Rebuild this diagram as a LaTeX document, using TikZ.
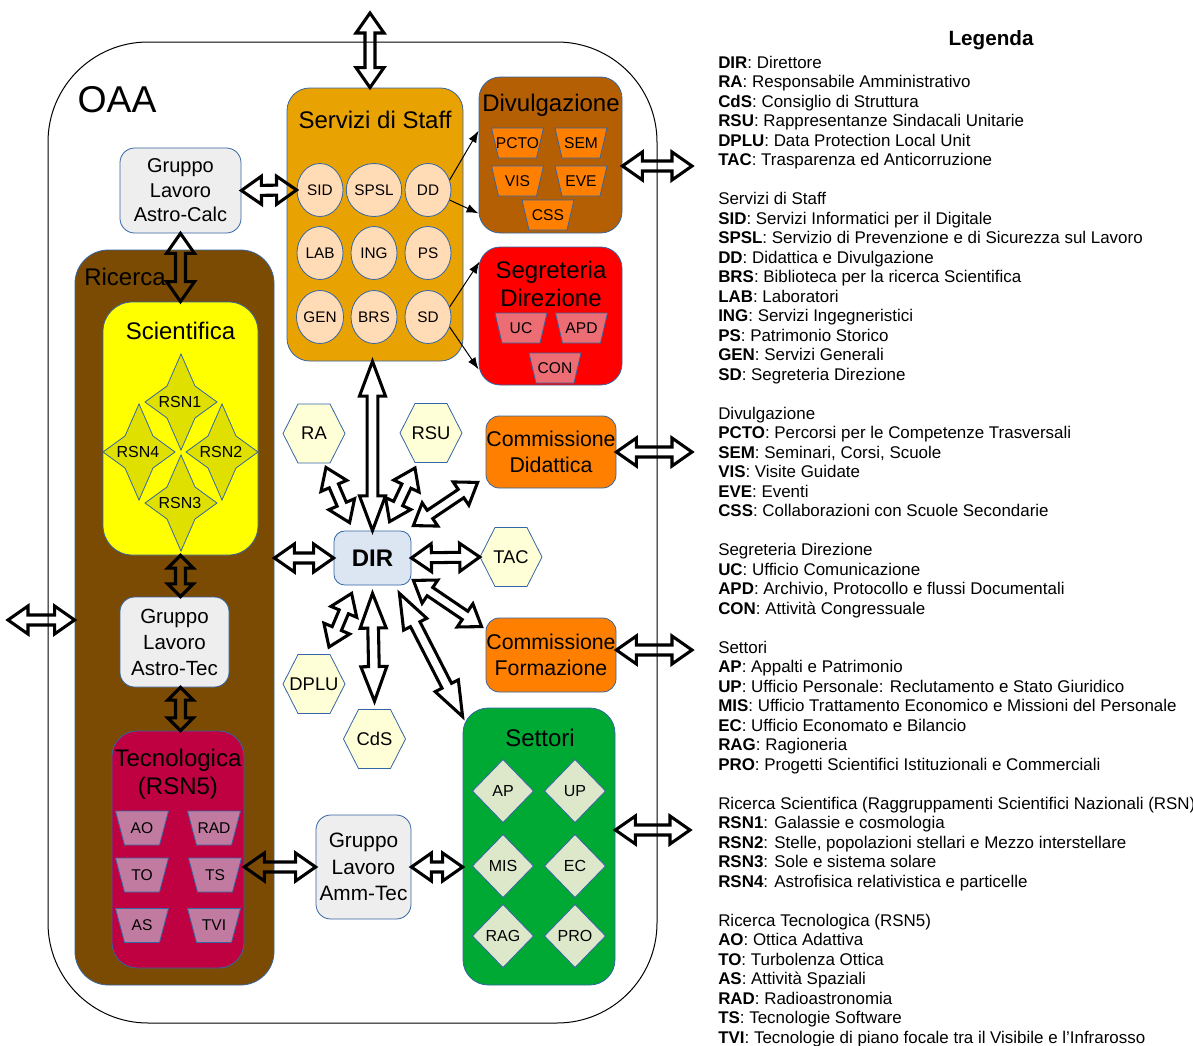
\documentclass[tikz,border=0pt]{standalone}
\usepackage{fontspec}
\setmainfont{Liberation Sans}
\usetikzlibrary{calc,shapes.geometric,arrows.meta}

\definecolor{bcol}{HTML}{3465A4}
\definecolor{cSS}{HTML}{E8A202}
\definecolor{cCirc}{HTML}{FFDBB6}
\definecolor{cDiv}{HTML}{B45F04}
\definecolor{cOr}{HTML}{FF8000}
\definecolor{cSeg}{HTML}{FF0000}
\definecolor{cSegT}{HTML}{EC6D74}
\definecolor{cRic}{HTML}{7B4A03}
\definecolor{cSci}{HTML}{FFFF00}
\definecolor{cStar}{HTML}{E0E000}
\definecolor{cTec}{HTML}{BF0041}
\definecolor{cTecT}{HTML}{C27BA0}
\definecolor{cSet}{HTML}{00A933}
\definecolor{cDia}{HTML}{DDE8CB}
\definecolor{cGray}{HTML}{EEEEEE}
\definecolor{cDir}{HTML}{DCE6F2}
\definecolor{cHex}{HTML}{FFFFD7}

% outline double arrow: name, head length, head half width, shaft half width
\newcommand\mkdbl[4]{%
\tikzset{#1/.style={draw=black, line width=2.3pt, line join=miter, miter limit=20, to path={
 let \p1=(\tikztostart), \p2=(\tikztotarget), \n1={atan2(\y2-\y1,\x2-\x1)} in
 (\p1) -- ($(\p1)+({\n1}:#2)+({\n1+90}:#3)$) -- ($(\p1)+({\n1}:#2)+({\n1+90}:#4)$)
 -- ($(\p2)+({\n1}:-#2)+({\n1+90}:#4)$) -- ($(\p2)+({\n1}:-#2)+({\n1+90}:#3)$)
 -- (\p2) -- ($(\p2)+({\n1}:-#2)+({\n1-90}:#3)$) -- ($(\p2)+({\n1}:-#2)+({\n1-90}:#4)$)
 -- ($(\p1)+({\n1}:#2)+({\n1-90}:#4)$) -- ($(\p1)+({\n1}:#2)+({\n1-90}:#3)$) -- cycle}}}}
\mkdbl{dblS}{15pt}{10.5pt}{3.75pt}
\mkdbl{dblL}{26pt}{9.75pt}{4pt}
\mkdbl{dblT}{9.5pt}{9.5pt}{3.75pt}

\tikzset{
 box/.style={draw=bcol, line width=0.6pt, inner sep=0pt, align=center},
 sz/.style 2 args={minimum width=#1*0.75pt, minimum height=#2*0.75pt},
 ttl/.style={inner sep=0pt, font=\fontsize{18}{21}\selectfont, align=center},
 shp/.style={draw=bcol, line width=0.6pt},
 lbl/.style={inner sep=0pt},
 circ/.style={ellipse, draw=bcol, line width=0.6pt, fill=cCirc, minimum width=34.5pt, minimum height=39.75pt, inner sep=0pt, font=\fontsize{11.5}{13}\selectfont},
 tarr/.style={line width=0.75pt, -{Latex[length=9pt,width=6.5pt]}},
}

\newcommand\hexn[4]{%
 \filldraw[shp, fill=cHex] ($(#2,#3)+(-31,0)$) -- ++(15,-29.5) -- ++(32,0) -- ++(15,29.5) -- ++(-15,29.5) -- ++(-32,0) -- cycle;
 \node[lbl, sz={62}{59}, font=\fontsize{13.8}{16}\selectfont] (#1) at (#2,#3) {#4};}
\newcommand\starn[4]{%
 \filldraw[shp, fill=cStar] ($(#2,#3)+(0,-48)$) -- ++(14,32) -- ++(22,16) -- ++(-22,16) -- ++(-14,32) -- ++(-14,-32) -- ++(-22,-16) -- ++(22,-16) -- cycle;}
\newcommand\trapn[8]{%
 \filldraw[shp, fill=#5] ($(#2,#3)+(-#6,-#8)$) -- ($(#2,#3)+(#6,-#8)$) -- ($(#2,#3)+(#7,#8)$) -- ($(#2,#3)+(-#7,#8)$) -- cycle;
 \node[lbl, font=\fontsize{11.7}{13}\selectfont] (#1) at (#2,#3) {#4};}
\newcommand\diamn[4]{%
 \filldraw[shp, fill=cDia] ($(#2,#3)+(0,-31.5)$) -- ++(30.5,31.5) -- ++(-30.5,31.5) -- ++(-30.5,-31.5) -- cycle;
 \node[lbl, font=\fontsize{12}{14}\selectfont] (#1) at (#2,#3) {#4};}

\begin{document}
\begin{tikzpicture}[x=0.75pt,y=-0.75pt]
\useasboundingbox (0,0) rectangle (1193,1046);

% outer OAA
\node[draw=black, line width=0.75pt, rounded corners=75pt, sz={609}{981}, inner sep=0pt] (OAA) at (352.5,532.5) {};
\node[lbl, font=\fontsize{28}{32}\selectfont] (tOAA) at (117,100) {OAA};

% Servizi di Staff
\node[box, fill=cSS, sz={176}{273}, rounded corners=17pt] (SS) at (375,224.5) {};
\node[ttl] (tSS) at (375,120) {Servizi di Staff};
\node[circ] (SID) at (320,190) {SID};
\node[circ] (SPSL) at (374,190) {SPSL};
\node[circ] (DD) at (428,190) {DD};
\node[circ] (LAB) at (320,253) {LAB};
\node[circ] (ING) at (374,253) {ING};
\node[circ] (PS) at (428,253) {PS};
\node[circ] (GEN) at (320,317) {GEN};
\node[circ] (BRS) at (374,317) {BRS};
\node[circ] (SD) at (428,317) {SD};

% Divulgazione
\node[box, fill=cDiv, sz={143}{156}, rounded corners=16pt] (DIV) at (550.5,155) {};
\node[ttl] (tDIV) at (551,105) {Divulgazione};
\trapn{PCTO}{517.5}{143}{PCTO}{cOr}{26}{19}{15}
\trapn{SEM}{581}{143}{SEM}{cOr}{26}{19}{15}
\trapn{VIS}{517.5}{181}{VIS}{cOr}{26}{19}{15}
\trapn{EVE}{581}{181}{EVE}{cOr}{26}{19}{15}
\trapn{CSS}{548}{215}{CSS}{cOr}{26}{19}{15}

% Segreteria Direzione
\node[box, fill=cSeg, sz={143}{138}, rounded corners=16pt] (SEG) at (550.5,316) {};
\node[ttl] (tSEG) at (551,283.5) {Segreteria\\Direzione};
\trapn{UC}{521}{328}{UC}{cSegT}{26}{19}{15}
\trapn{APD}{581.5}{328}{APD}{cSegT}{26}{19}{15}
\trapn{CON}{555}{368}{CON}{cSegT}{26}{19}{15}

% Gruppo Lavoro Astro-Calc
\node[box, fill=cGray, sz={121}{85}, rounded corners=11pt, font=\fontsize{15}{18.4}\selectfont] (GAC) at (180.5,190.5) {Gruppo\\Lavoro\\Astro-Calc};

% Ricerca
\node[box, fill=cRic, sz={199}{735}, rounded corners=25pt] (RIC) at (174.5,617.5) {};
\node[ttl] (tRIC) at (125,277) {Ricerca};
\node[box, fill=cSci, sz={155}{253}, rounded corners=22pt] (SCI) at (180.5,428.5) {};
\node[ttl] (tSCI) at (180.5,331) {Scientifica};
\starn{sRSN1}{181}{402}{}
\starn{sRSN2}{222}{452}{}
\starn{sRSN3}{181}{503}{}
\starn{sRSN4}{139}{452}{}
\node[lbl, font=\fontsize{12}{14}\selectfont] (RSN1) at (180,402) {RSN1};
\node[lbl, font=\fontsize{12}{14}\selectfont] (RSN2) at (221,452) {RSN2};
\node[lbl, font=\fontsize{12}{14}\selectfont] (RSN3) at (180,503) {RSN3};
\node[lbl, font=\fontsize{12}{14}\selectfont] (RSN4) at (138,452) {RSN4};
\node[box, fill=cGray, sz={109}{90}, rounded corners=11pt, font=\fontsize{15.4}{19.5}\selectfont] (GAT) at (174.5,642) {Gruppo\\Lavoro\\Astro-Tec};
\node[box, fill=cTec, sz={132}{237}, rounded corners=19pt] (TEC) at (178,849.5) {};
\node[ttl] (tTEC) at (178,774.5) {Tecnologica\\(RSN5)};
\trapn{AO}{142}{828}{AO}{cTecT}{26.5}{17.5}{17}
\trapn{RAD}{214}{828}{RAD}{cTecT}{26.5}{17.5}{17}
\trapn{TO}{142}{875}{TO}{cTecT}{26.5}{17.5}{17}
\trapn{TS}{215}{875}{TS}{cTecT}{26.5}{17.5}{17}
\trapn{AS}{142}{925.5}{AS}{cTecT}{26.5}{17.5}{17}
\trapn{TVI}{214}{925.5}{TVI}{cTecT}{26.5}{17.5}{17}

% DIR and hexagons
\node[box, fill=cDir, sz={77}{54}, rounded corners=8pt, font=\bfseries\fontsize{18}{21}\selectfont] (DIR) at (372.5,558) {DIR};
\hexn{RA}{314}{433.5}{RA}
\hexn{RSU}{431}{433}{RSU}
\hexn{TAC}{511}{557}{TAC}
\hexn{DPLU}{314}{684}{DPLU}
\hexn{CdS}{374.5}{739}{CdS}

% Commissioni
\node[box, fill=cOr, sz={130}{72}, rounded corners=10pt, font=\fontsize{16}{19}\selectfont] (CD) at (551,452) {Commissione\\Didattica};
\node[box, fill=cOr, sz={130}{74}, rounded corners=10pt, font=\fontsize{16}{19}\selectfont] (CF) at (551,655) {Commissione\\Formazione};

% Settori
\node[box, fill=cSet, sz={152}{277}, rounded corners=19pt] (SET) at (539,846.5) {};
\node[ttl] (tSET) at (540,738) {Settori};
\diamn{AP}{503}{791}{AP}
\diamn{UP}{575}{791}{UP}
\diamn{MIS}{503}{866}{MIS}
\diamn{EC}{575}{866}{EC}
\diamn{RAG}{503}{936}{RAG}
\diamn{PRO}{575}{936}{PRO}

% Gruppo Lavoro Amm-Tec
\node[box, fill=cGray, sz={95}{104}, rounded corners=11pt, font=\fontsize{15.6}{19.9}\selectfont] (GAM) at (363.5,867) {Gruppo\\Lavoro\\Amm-Tec};

% free ends
\coordinate (topEnd) at (370,13);
\coordinate (leftEnd) at (8,620);
\coordinate (r1) at (692,166);
\coordinate (r2) at (692,452);
\coordinate (r3) at (692,650);
\coordinate (r4) at (690,830);

% thin arrows
\draw[tarr] (DD.25) -- ($(DIV.north west)+(0,54)$);
\draw[tarr] (DD.-25) -- ($(DIV.south west)+(0,-20)$);
\draw[tarr] (SD.25) -- ($(SEG.north west)+(1,15)$);
\draw[tarr] (SD.-25) -- ($(SEG.south west)+(0,-16)$);

% double arrows
\draw[dblS] (topEnd) to (SS.north -| topEnd);
\draw[dblS] (GAC.east) to (SID.west);
\draw[dblS] (GAC.south) to (GAC.south |- SCI.north);
\draw[dblT] (SCI.south) to (SCI.south |- GAT.north);
\draw[dblT] (SCI.south |- GAT.south) to (SCI.south |- TEC.north);
\draw[dblS] (leftEnd) to (RIC.west |- leftEnd);
\draw[dblS] (DIR.west) to (RIC.east |- DIR.west);
\draw[dblS] (DIR.east) to (TAC.west);
\draw[dblL] (DIR.north) to (DIR.north |- SS.south);
\draw[dblL] ($(DIR.south)+(0,8)$) to ($(CdS.north)+(0,-8)$);
\draw[dblS] ($(DIR.north west)+(16,-8)$) to ($(RA)+(12,34)$);
\draw[dblS] ($(DIR.north west)+(56,-9)$) to ($(RSU)+(-16,35)$);
\draw[dblS] ($(DIR.north east)+(2,-5)$) to ($(CD.south west)+(-8,-6)$);
\draw[dblS] ($(DIR.south east)+(2,-5)$) to ($(CF.north west)+(-4,9)$);
\draw[dblL] ($(DIR.south east)+(-12,8)$) to ($(SET.north west)+(0,9)$);
\draw[dblS] ($(DIR.south west)+(18,8)$) to ($(DPLU)+(15,-37)$);
\draw[dblS] (DIV.east |- r1) to (r1);
\draw[dblS] (CD.east) to (r2);
\draw[dblS] (CF.east |- r3) to (r3);
\draw[dblS] (SET.east |- r4) to (r4);
\draw[dblS] (TEC.east |- GAM.west) to (GAM.west);
\draw[dblS] (GAM.east) to (GAM.east -| SET.west);

% Legend
\node[lbl, font=\bfseries\fontsize{15.5}{18}\selectfont] (legT) at (991,40) {Legenda};
\node[anchor=north west, align=left, inner sep=0pt, font=\fontsize{12.7}{14.625}\selectfont] (leg) at (718,55.5) {%
\textbf{DIR}: Direttore\\
\textbf{RA}: Responsabile Amministrativo\\
\textbf{CdS}: Consiglio di Struttura\\
\textbf{RSU}: Rappresentanze Sindacali Unitarie\\
\textbf{DPLU}: Data Protection Local Unit\\
\textbf{TAC}: Trasparenza ed Anticorruzione\\[14.625pt]
Servizi di Staff\\
\textbf{SID}: Servizi Informatici per il Digitale\\
\textbf{SPSL}: Servizio di Prevenzione e di Sicurezza sul Lavoro\\
\textbf{DD}: Didattica e Divulgazione\\
\textbf{BRS}: Biblioteca per la ricerca Scientifica\\
\textbf{LAB}: Laboratori\\
\textbf{ING}: Servizi Ingegneristici\\
\textbf{PS}: Patrimonio Storico\\
\textbf{GEN}: Servizi Generali\\
\textbf{SD}: Segreteria Direzione\\[14.625pt]
Divulgazione\\
\textbf{PCTO}: Percorsi per le Competenze Trasversali\\
\textbf{SEM}: Seminari, Corsi, Scuole\\
\textbf{VIS}: Visite Guidate\\
\textbf{EVE}: Eventi\\
\textbf{CSS}: Collaborazioni con Scuole Secondarie\\[14.625pt]
Segreteria Direzione\\
\textbf{UC}: Ufficio Comunicazione\\
\textbf{APD}: Archivio, Protocollo e flussi Documentali\\
\textbf{CON}: Attività Congressuale\\[14.625pt]
Settori\\
\textbf{AP}: Appalti e Patrimonio\\
\textbf{UP}: Ufficio Personale: Reclutamento e Stato Giuridico\\
\textbf{MIS}: Ufficio Trattamento Economico e Missioni del Personale\\
\textbf{EC}: Ufficio Economato e Bilancio\\
\textbf{RAG}: Ragioneria\\
\textbf{PRO}: Progetti Scientifici Istituzionali e Commerciali\\[14.625pt]
Ricerca Scientifica (Raggruppamenti Scientifici Nazionali (RSN)\\
\textbf{RSN1}: Galassie e cosmologia\\
\textbf{RSN2}: Stelle, popolazioni stellari e Mezzo interstellare\\
\textbf{RSN3}: Sole e sistema solare\\
\textbf{RSN4}: Astrofisica relativistica e particelle\\[14.625pt]
Ricerca Tecnologica (RSN5)\\
\textbf{AO}: Ottica Adattiva\\
\textbf{TO}: Turbolenza Ottica\\
\textbf{AS}: Attività Spaziali\\
\textbf{RAD}: Radioastronomia\\
\textbf{TS}: Tecnologie Software\\
\textbf{TVI}: Tecnologie di piano focale tra il Visibile e l’Infrarosso};
\end{tikzpicture}
\end{document}
